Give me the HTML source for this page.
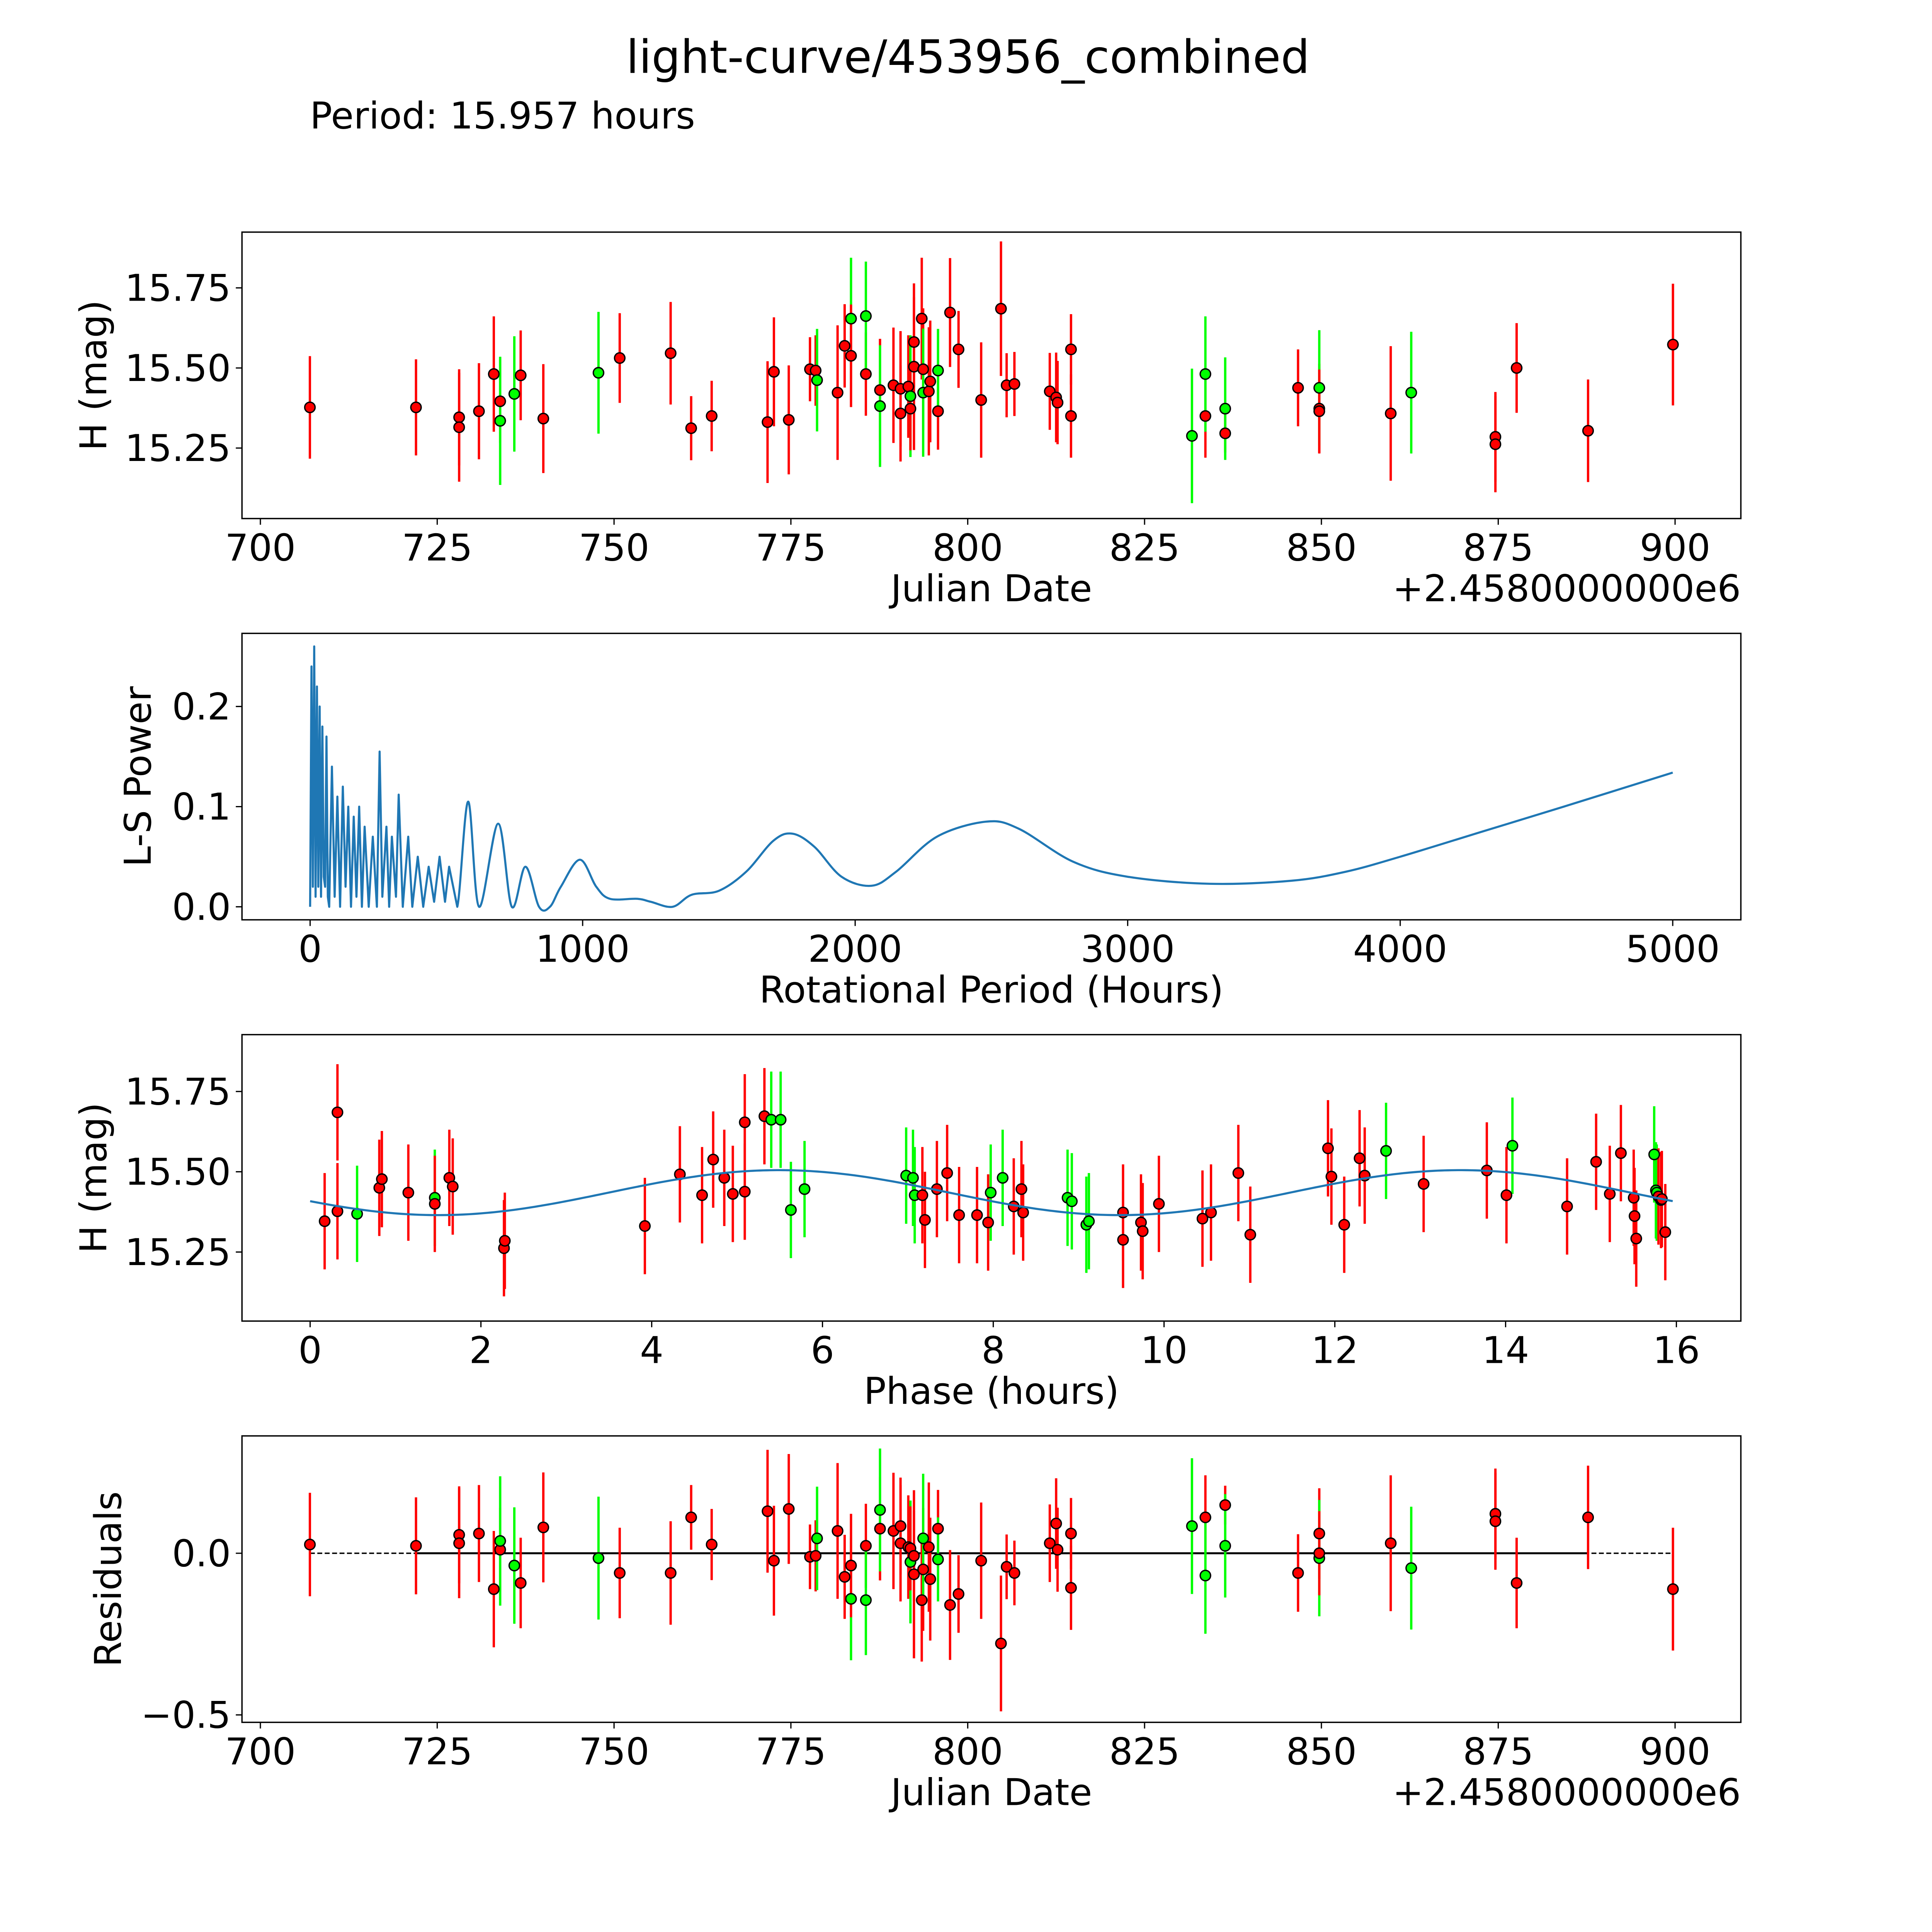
<!DOCTYPE html>
<html><head><meta charset="utf-8"><style>
html,body{margin:0;padding:0;background:#fff;overflow:hidden;width:5400px;height:5400px;position:relative}
svg{display:block;position:absolute;left:0;top:0}
text{font-family:"DejaVu Sans","Liberation Sans",sans-serif;fill:#000}
</style></head><body>
<svg id="fig" xmlns="http://www.w3.org/2000/svg" width="5400" height="5400" viewBox="0 0 1690 1690" overflow="hidden">
<rect x="0" y="0" width="1690" height="1690" fill="#fff"/>
<text x="784" y="59" font-size="37" text-anchor="middle">light-curve/453956_combined</text>
<text x="251" y="104" font-size="30">Period: 15.957 hours</text>
<g id="p1"></g>
<g id="p2"></g>
<g id="p3"></g>
<g id="p4"></g>
</svg>
<script>
// ---- data ----
const dates=[707.0,722.0,728.1,728.1,730.9,733.0,733.9,733.9,735.9,736.8,740.0,747.8,750.8,758.0,760.9,763.8,771.7,772.6,774.7,777.7,778.5,778.7,781.6,782.6,783.5,783.5,785.6,785.6,787.6,787.6,789.5,790.5,790.5,791.6,791.9,791.9,792.4,792.4,793.5,793.7,793.7,794.5,794.7,795.8,795.8,797.5,798.7,801.9,804.7,805.5,806.6,811.6,812.5,812.7,814.6,814.6,831.7,833.6,833.6,836.4,836.4,846.7,849.7,849.7,849.7,859.8,862.7,874.6,874.6,877.6,887.7,899.7];
const mags=[15.377,15.377,15.346,15.315,15.365,15.481,15.396,15.335,15.419,15.477,15.342,15.485,15.531,15.546,15.312,15.35,15.331,15.488,15.338,15.496,15.492,15.462,15.423,15.569,15.654,15.538,15.481,15.662,15.431,15.381,15.446,15.358,15.435,15.442,15.412,15.373,15.581,15.504,15.654,15.496,15.423,15.427,15.458,15.365,15.492,15.673,15.558,15.40,15.685,15.446,15.45,15.427,15.408,15.392,15.558,15.35,15.288,15.35,15.481,15.296,15.373,15.438,15.373,15.438,15.365,15.358,15.423,15.285,15.262,15.5,15.304,15.573];
const magErr=[0.16,0.15,0.15,0.17,0.15,0.18,0.13,0.2,0.18,0.14,0.17,0.19,0.14,0.16,0.1,0.11,0.19,0.17,0.17,0.1,0.11,0.16,0.21,0.13,0.19,0.16,0.13,0.17,0.16,0.19,0.18,0.15,0.18,0.16,0.19,0.13,0.14,0.26,0.19,0.19,0.2,0.2,0.19,0.12,0.13,0.17,0.12,0.18,0.21,0.1,0.1,0.12,0.14,0.13,0.11,0.13,0.21,0.13,0.18,0.06,0.16,0.12,0.14,0.18,0.13,0.21,0.19,0.14,0.15,0.14,0.16,0.19];
const obsColor="rrrrrrrggrrgrrrrrrrrrgrrgrrgrgrrrrgrrrrrgrrrgrrrrrrrrrrrgrgrgrrgrrgrrrrr".split("");
const residuals=[0.027,0.023,0.057,0.031,0.061,-0.111,0.011,0.038,-0.038,-0.092,0.080,-0.015,-0.061,-0.061,0.111,0.027,0.130,-0.023,0.137,-0.011,-0.008,0.046,0.069,-0.073,-0.141,-0.038,0.023,-0.145,0.076,0.134,0.069,0.084,0.031,0.019,-0.027,0.015,-0.008,-0.065,-0.145,-0.050,0.046,0.019,-0.080,0.076,-0.019,-0.160,-0.126,-0.023,-0.279,-0.042,-0.061,0.031,0.092,0.011,0.061,-0.107,0.084,0.111,-0.069,0.149,0.023,-0.061,0.061,-0.015,0.0,0.031,-0.046,0.122,0.099,-0.092,0.111,-0.111];
const phases=[0.17,0.32,0.32,0.55,0.81,0.84,1.15,1.46,1.46,1.63,1.67,2.27,2.28,3.92,4.33,4.59,4.72,4.85,4.95,5.09,5.09,5.32,5.40,5.51,5.63,5.79,6.98,7.06,7.08,7.17,7.20,7.34,7.46,7.60,7.81,7.94,7.97,8.11,8.24,8.33,8.35,8.87,8.92,9.09,9.12,9.52,9.52,9.73,9.75,9.94,10.45,10.55,10.87,11.01,11.92,11.96,12.11,12.29,12.35,12.60,13.04,13.78,14.01,14.08,14.72,15.06,15.22,15.35,15.50,15.51,15.53,15.74,15.76,15.77,15.79,15.82,15.83,15.87];
const phaseMags=[15.346,15.377,15.685,15.369,15.45,15.477,15.435,15.419,15.40,15.481,15.454,15.262,15.285,15.331,15.492,15.427,15.538,15.481,15.431,15.438,15.654,15.673,15.662,15.662,15.381,15.446,15.488,15.481,15.427,15.427,15.35,15.446,15.496,15.365,15.365,15.342,15.435,15.481,15.392,15.446,15.373,15.419,15.408,15.335,15.346,15.373,15.288,15.342,15.315,15.40,15.354,15.373,15.496,15.304,15.573,15.485,15.335,15.542,15.488,15.565,15.462,15.504,15.427,15.581,15.392,15.531,15.431,15.558,15.419,15.362,15.292,15.554,15.442,15.435,15.423,15.412,15.415,15.312];
const phaseColor="rrrgrrrgrrrrrrrrrrrrrrgggggggrrrrrrrggrrrggggrrrrrrrrrrrrrrgrrrgrrrrrrrgggrrr".split("");
const lsPeriod=[0,5,10,15,20,25,30,35,40,45,50,55,60,65,70,80,90,100,110,120,130,140,150,160,170,180,190,200,215,230,245,255,265,280,290,300,315,325,340,360,375,395,415,435,455,475,495,510,540,580,620,690,740,790,840,880,920,990,1050,1100,1200,1250,1330,1400,1500,1600,1700,1770,1850,1950,2060,2150,2300,2480,2600,2800,3000,3300,3600,3800,4000,4300,4600,5000];
const lsPower=[0,0.24,0.02,0.26,0.01,0.22,0.02,0.2,0.01,0.18,0.03,0.02,0.17,0.01,0.0,0.14,0.01,0.11,0.0,0.12,0.02,0.1,0.0,0.09,0.01,0.1,0.0,0.08,0.0,0.07,0.0,0.155,0.01,0.08,0.0,0.07,0.01,0.112,0.0,0.07,0.0,0.05,0.0,0.04,0.005,0.05,0.005,0.04,0.0,0.105,0.0,0.083,0.0,0.04,0.0,0.0,0.02,0.047,0.02,0.008,0.008,0.005,0.0,0.012,0.016,0.035,0.066,0.073,0.06,0.03,0.021,0.035,0.07,0.085,0.078,0.045,0.03,0.023,0.026,0.035,0.05,0.075,0.1,0.134];
const fitParams=[15.435,0.07,7.98,1.5]; // mean, amplitude, half-period, phase of minimum
const jdTicks=[700,725,750,775,800,825,850,875,900];
const magTicks=[15.25,15.5,15.75];
const magTickLabels=["15.25","15.50","15.75"];
const lsXTicks=[0,1000,2000,3000,4000,5000];
const lsYTicks=[0,0.1,0.2];
const lsYTickLabels=["0.0","0.1","0.2"];
const phaseTicks=[0,2,4,6,8,10,12,14,16];
const resTicks=[-0.5,0];
const resTickLabels=["\u22120.5","0.0"];

// ---- drawing ----
const NS="http://www.w3.org/2000/svg";
function mk(parent,tag,attrs,txt){const e=document.createElementNS(NS,tag);for(const k in attrs)e.setAttribute(k,attrs[k]);if(txt!==undefined)e.textContent=txt;parent.appendChild(e);return e;}
const L=196,R=1410,W=R-L;
const TF=30,AF=30;
function axes(g,top,bot,xmin,xmax,ymin,ymax){
  const sx=v=>L+(v-xmin)/(xmax-xmin)*W;
  const sy=v=>bot-(v-ymin)/(ymax-ymin)*(bot-top);
  return {sx,sy,top,bot};
}
function frame(g,A,xt,xtl,yt,ytl,xlabel,ylabel,ylx){
  const f=mk(g,'rect',{x:L,y:A.top,width:W,height:A.bot-A.top,fill:'none',stroke:'#000','stroke-width':1.1});
  
  
  xt.forEach((v,i)=>{const x=A.sx(v);
    const t=mk(g,'line',{x1:x,x2:x,y1:A.bot,y2:A.bot+5,stroke:'#000','stroke-width':1});
    
    
    const tl=mk(g,'text',{x:x,y:A.bot+34,'font-size':TF,'text-anchor':'middle'},xtl[i]);
    
    
  });
  yt.forEach((v,i)=>{const y=A.sy(v);
    const t=mk(g,'line',{x1:L-5,x2:L,y1:y,y2:y,stroke:'#000','stroke-width':1});
    
    
    const tl=mk(g,'text',{x:L-9,y:y+10.5,'font-size':TF,'text-anchor':'end'},ytl[i]);
    
    
  });
  const xl=mk(g,'text',{x:(L+R)/2,y:A.bot+67,'font-size':AF,'text-anchor':'middle'},xlabel);
  
  
  const cy=(A.top+A.bot)/2;
  const yl=mk(g,'text',{x:ylx,y:cy,'font-size':AF,'text-anchor':'middle',transform:`rotate(-90 ${ylx} ${cy})`},ylabel);
  
  
}
function offsetText(g,A){
  const o=mk(g,'text',{x:R,y:A.bot+67,'font-size':AF,'text-anchor':'end'},'+2.4580000000e6');
  
  
}
function points(g,A,xs,ys,errs,cols,name){
  xs.forEach((v,i)=>{
    const c=cols[i]==='g'?'#00ff00':'#ff0000';
    const e=errs[i]!==undefined?errs[i]:0.15;
    const x=A.sx(v);
    const l=mk(g,'line',{x1:x,x2:x,y1:A.sy(ys[i]+e),y2:A.sy(ys[i]-e),stroke:c,'stroke-width':1.9});
    
    
  });
  xs.forEach((v,i)=>{
    const c=cols[i]==='g'?'#00ff00':'#ff0000';
    const p=mk(g,'circle',{cx:A.sx(v),cy:A.sy(ys[i]),r:4.2,fill:c,stroke:'#000','stroke-width':1.1});
    
    
  });
}
const jdLabels=jdTicks.map(String);
// panel 1
const g1=document.getElementById('p1');
const A1=axes(g1,188,420,697.4,909.3,15.030,15.924);
points(g1,A1,dates,mags,magErr,obsColor,'observation');
frame(g1,A1,jdTicks,jdLabels,magTicks,magTickLabels,'Julian Date','H (mag)',86);
offsetText(g1,A1);
// panel 2
const g2=document.getElementById('p2');
const A2=axes(g2,513,745,-250,5250,-0.013,0.273);
let d='';
for(let i=0;i<lsPeriod.length;i++){
  if(lsPeriod[i]<560){d+=(i?'L':'M')+A2.sx(lsPeriod[i]).toFixed(2)+' '+A2.sy(lsPower[i]).toFixed(2);continue;}
  const p2=Math.min(i+1,lsPeriod.length-1),pm=i-1,pp=Math.max(i-2,0);
  const P=k=>[A2.sx(lsPeriod[k]),A2.sy(lsPower[k])];
  const a=P(pp),b=P(pm),c=P(i),e=P(p2);
  const c1=[b[0]+(c[0]-a[0])/6,b[1]+(c[1]-a[1])/6],c2=[c[0]-(e[0]-b[0])/6,c[1]-(e[1]-b[1])/6];
  d+=`C${c1[0].toFixed(2)} ${c1[1].toFixed(2)} ${c2[0].toFixed(2)} ${c2[1].toFixed(2)} ${c[0].toFixed(2)} ${c[1].toFixed(2)}`;
}
const ls=mk(g2,'path',{d:d,fill:'none',stroke:'#1f77b4','stroke-width':1.7,'stroke-linejoin':'round'});


frame(g2,A2,lsXTicks,lsXTicks.map(String),lsYTicks,lsYTickLabels,'Rotational Period (Hours)','L-S Power',122);
// panel 3
const g3=document.getElementById('p3');
const A3=axes(g3,838,1070,-0.798,16.755,15.035,15.927);
const per=15.957;let fd='';
for(let k=0;k<=400;k++){const ph=per*k/400;
  const m=fitParams[0]+fitParams[1]*Math.sin(2*Math.PI*(ph-fitParams[3])/fitParams[2]-Math.PI/2);
  fd+=(k?'L':'M')+A3.sx(ph).toFixed(2)+' '+A3.sy(m).toFixed(2);}
points(g3,A3,phases,phaseMags,[],phaseColor,'phased-observation');
const fit=mk(g3,'path',{d:fd,fill:'none',stroke:'#1f77b4','stroke-width':1.7});


frame(g3,A3,phaseTicks,phaseTicks.map(String),magTicks,magTickLabels,'Phase (hours)','H (mag)',86);
// panel 4
const g4=document.getElementById('p4');
const A4=axes(g4,1163,1395,697.4,909.3,-0.523,0.363);
const dz=mk(g4,'line',{x1:A4.sx(dates[0]),x2:A4.sx(dates[dates.length-1]),y1:A4.sy(0),y2:A4.sy(0),stroke:'#000','stroke-width':1.1,'stroke-dasharray':'4 2'});


const sz=mk(g4,'line',{x1:A4.sx(dates[1]),x2:A4.sx(dates[dates.length-2]),y1:A4.sy(0),y2:A4.sy(0),stroke:'#000','stroke-width':1.6});


points(g4,A4,dates,residuals,magErr,obsColor,'residual');
frame(g4,A4,jdTicks,jdLabels,resTicks,resTickLabels,'Julian Date','Residuals',98);
offsetText(g4,A4);
</script>
</body></html>
